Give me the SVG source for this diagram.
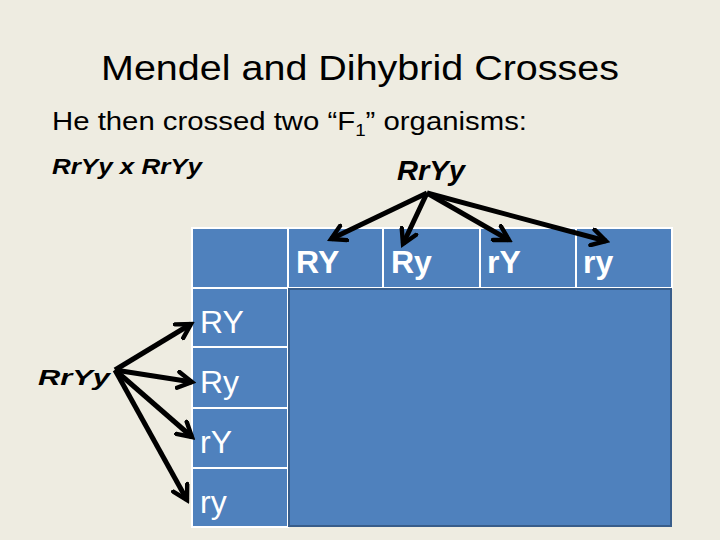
<svg xmlns="http://www.w3.org/2000/svg" width="720" height="540" viewBox="0 0 720 540">
<style>
text{font-family:"Liberation Sans",Arial,sans-serif;fill:#000}
.cell{fill:#4f81bd;stroke:#fff;stroke-width:2}
.h{fill:#fff;font-size:32px;font-weight:bold}
.r{fill:#fff;font-size:32px}
.bi{font-weight:bold;font-style:italic}
.c{stroke:#000;stroke-width:5;fill:none;marker-end:url(#a)}
</style>
<defs><marker id="a" viewBox="0 0 10 10" refX="8" refY="5" markerWidth="4" markerHeight="4" orient="auto" markerUnits="strokeWidth"><path d="M1,1 L8,5 L1,9" fill="none" stroke="#000" stroke-width="2.2" stroke-linecap="round"/></marker></defs>
<rect width="720" height="540" fill="#eeece1"/>
<text x="360" y="80" text-anchor="middle" font-size="35" textLength="518" lengthAdjust="spacingAndGlyphs">Mendel and Dihybrid Crosses</text>
<text x="52" y="130" font-size="25" textLength="475" lengthAdjust="spacingAndGlyphs">He then crossed two “F<tspan font-size="16" dy="6">1</tspan><tspan dy="-6">” organisms:</tspan></text>
<text class="bi" x="52" y="174" font-size="22" textLength="150" lengthAdjust="spacingAndGlyphs">RrYy x RrYy</text>
<g id="top-parent"><text class="bi" x="397" y="180" font-size="28" textLength="68" lengthAdjust="spacingAndGlyphs">RrYy</text></g>
<g id="left-parent"><text class="bi" x="38" y="385" font-size="22" textLength="72" lengthAdjust="spacingAndGlyphs">RrYy</text></g>
<g id="table">
<rect class="cell" x="192" y="228" width="96" height="60"/>
<g id="hRY"><rect class="cell" x="288" y="228" width="95" height="60"/><text class="h" x="296" y="273">RY</text></g>
<g id="hRy"><rect class="cell" x="383" y="228" width="97" height="60"/><text class="h" x="391" y="273">Ry</text></g>
<g id="hrY"><rect class="cell" x="480" y="228" width="96" height="60"/><text class="h" x="487" y="273">rY</text></g>
<g id="hry"><rect class="cell" x="576" y="228" width="96" height="60"/><text class="h" x="583" y="273">ry</text></g>
<g id="lRY"><rect class="cell" x="192" y="288" width="96" height="59"/><text class="r" x="200" y="333">RY</text></g>
<g id="lRy"><rect class="cell" x="192" y="347" width="96" height="61"/><text class="r" x="200" y="393">Ry</text></g>
<g id="lrY"><rect class="cell" x="192" y="408" width="96" height="60"/><text class="r" x="200" y="453">rY</text></g>
<g id="lry"><rect class="cell" x="192" y="468" width="96" height="59"/><text class="r" x="200" y="513">ry</text></g>
<rect x="289" y="289" width="382" height="237" fill="#4f81bd" stroke="#385d8a" stroke-width="2"/>
</g>
<g id="connectors">
<line class="c" x1="427" y1="193" x2="331" y2="239"/>
<line class="c" x1="427" y1="193" x2="403" y2="244"/>
<line class="c" x1="427" y1="193" x2="509" y2="240"/>
<line class="c" x1="427" y1="193" x2="606" y2="241"/>
<line class="c" x1="115" y1="370" x2="191" y2="324"/>
<line class="c" x1="115" y1="370" x2="192" y2="382"/>
<line class="c" x1="115" y1="370" x2="192" y2="437"/>
<line class="c" x1="115" y1="370" x2="187" y2="500"/>
</g>
</svg>
